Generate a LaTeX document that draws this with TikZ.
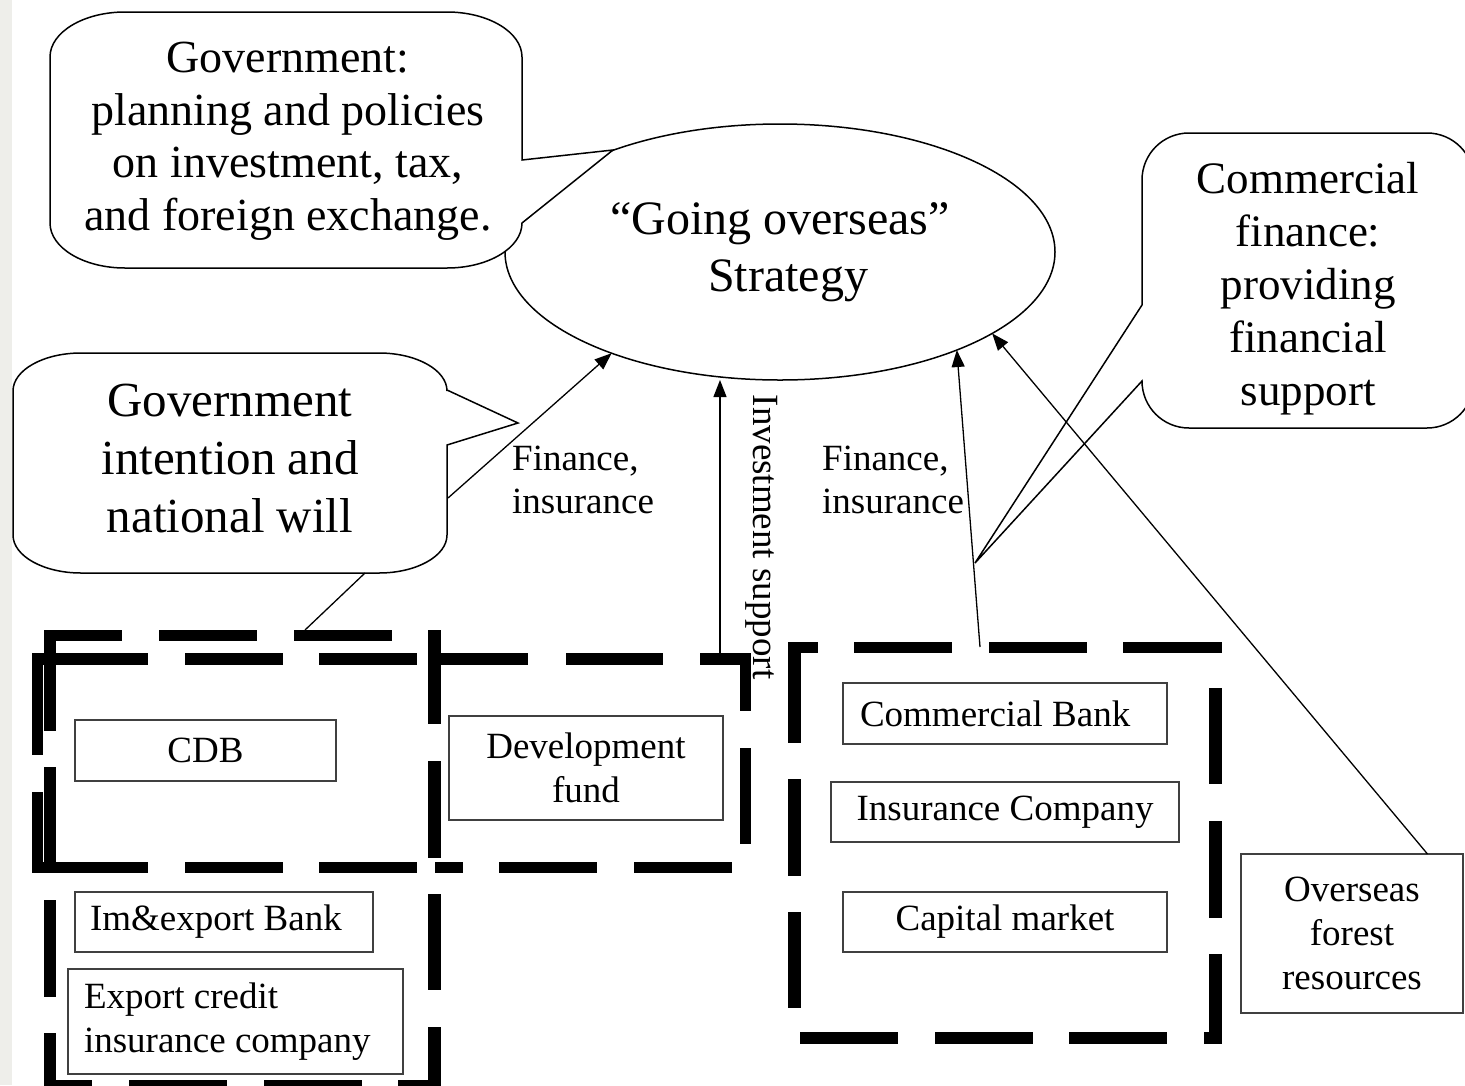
\documentclass[tikz,border=0pt]{standalone}
\usepackage{fontspec}
\setmainfont{Liberation Serif}
\usetikzlibrary{shapes.geometric,arrows.meta,calc}
\definecolor{strip}{RGB}{238,238,234}
\begin{document}
\begin{tikzpicture}[x=1pt,y=-1pt,
  outline/.style={draw=black, line width=1.5pt, fill=white},
  boxnode/.style={draw=black!75, line width=1.3pt, fill=white, inner sep=0pt, outer sep=0pt, align=center, font=\fontsize{37}{44}\selectfont},
  lab/.style={font=\fontsize{37}{43}\selectfont, align=left, inner sep=0pt},
  arr/.style={-{Triangle[length=17pt,width=13pt]}, line width=1.3pt},
  conn/.style={line width=1.3pt},
  dashbar/.style={fill=black}
]
\useasboundingbox (0,0) rectangle (1465,1085);
\clip (0,0) rectangle (1465,1085);
\fill[white] (0,0) rectangle (1465,1085);
\fill[strip] (0,0) rectangle (12,1085);

% central ellipse
\node[ellipse, outline, minimum width=550pt, minimum height=256pt, inner sep=0pt, outer sep=0pt, align=center, font=\fontsize{48}{57}\selectfont] (ell) at (780,252) {“Going overseas”\\\hspace*{16pt}Strategy};

% callout 1
\coordinate (g1tip) at (613,150);
\draw[outline] (522,160) -- (g1tip) -- (522,223) .. controls (522,247.8) and (488.4,268) .. (447,268) -- (125,268) .. controls (83.6,268) and (50,247.8) .. (50,223) -- (50,57) .. controls (50,32.2) and (83.6,12) .. (125,12) -- (447,12) .. controls (488.4,12) and (522,32.2) .. (522,57) -- cycle;
\node[font=\fontsize{46}{52.5}\selectfont, align=center, inner sep=0pt] (gov1) at (288,141) {Government:\\planning and policies\\on investment, tax,\\and foreign exchange.};

% callout 2
\coordinate (g2tip) at (518,423);
\draw[outline] (447,390) -- (g2tip) -- (447,445) -- (447,535) .. controls (447,556) and (416.5,573) .. (379,573) -- (81,573) .. controls (43.5,573) and (13,556) .. (13,535) -- (13,391) .. controls (13,370) and (43.5,353) .. (81,353) -- (379,353) .. controls (416.5,353) and (447,370) .. (447,391) -- cycle;
\node[font=\fontsize{49}{58}\selectfont, align=center, inner sep=0pt] (gov2) at (230,459) {Government\\intention and\\national will};

% callout 3
\coordinate (cftip) at (975,563);
\draw[outline] (1142,305) -- (cftip) -- (1142,381) .. controls (1142,407) and (1163,428) .. (1189,428) -- (1427,428) .. controls (1453,428) and (1474,407) .. (1474,381) -- (1474,180) .. controls (1474,154) and (1453,133) .. (1427,133) -- (1189,133) .. controls (1163,133) and (1142,154) .. (1142,180) -- cycle;
\node[font=\fontsize{45}{53}\selectfont, align=center, inner sep=0pt] (comf) at (1308,289) {Commercial\\finance:\\providing\\financial\\support};

% boxes
\node[boxnode, minimum width=261pt, minimum height=61pt] (cdb) at (205.5,750.5) {CDB};
\node[boxnode, minimum width=274pt, minimum height=104pt] (dev) at (586,768) {Development\\fund};
\node[boxnode, minimum width=298pt, minimum height=60pt, text width=268pt, inner xsep=15pt, align=flush left] (imex) at (224,922) {Im\&export Bank};
\node[boxnode, minimum width=335pt, minimum height=105pt, text width=303pt, inner xsep=16pt, align=flush left] (ecic) at (235.5,1021.5) {Export credit\\insurance company};
\node[boxnode, minimum width=324pt, minimum height=61pt, text width=290pt, inner xsep=17pt, align=flush left] (cb) at (1005,713.5) {Commercial Bank};
\node[boxnode, minimum width=348pt, minimum height=60pt] (ic) at (1005,812) {Insurance Company};
\node[boxnode, minimum width=324pt, minimum height=60pt] (cm) at (1005,922) {Capital market};
\node[boxnode, minimum width=222pt, minimum height=159pt] (ofr) at (1352,933.5) {Overseas\\forest\\resources};

% thick dashed frames
\foreach \a/\b/\c/\d in {
  44/630/122/641, 159/630/257/641, 294/630/392/641,
  32/653/148/665, 185/653/283/665, 319/653/417/665, 435/653/528/665, 566/653/663/665, 700/653/751/665,
  32/862/148/873, 185/862/283/873, 319/862/417/873, 435/862/463/873, 499/862/597/873, 634/862/732/873,
  44/1080/92/1092, 129/1080/227/1092, 264/1080/362/1092, 398/1080/441/1092,
  32/653/43/755, 32/792/43/873,
  44/630/56/731, 44/767/56/868, 44/900/56/997, 44/1033/56/1092,
  428/630/441/724, 428/761/441/858, 428/894/441/990, 428/1027/441/1092,
  740/653/751/711, 740/748/751/844,
  788/642/818/653, 854/642/952/653, 989/642/1087/653, 1123/642/1222/653,
  788/642/801/743, 788/779/801/876, 788/912/801/1008,
  1209/688/1222/784, 1209/821/1222/918, 1209/954/1222/1044,
  800/1032/898/1044, 935/1032/1033/1044, 1069/1032/1167/1044, 1204/1032/1222/1044}
  \fill[dashbar] (\a,\b) rectangle (\c,\d);

% labels
\node[lab, anchor=west] (fin1) at (512,480) {Finance,\\insurance};
\node[lab, anchor=west] (fin2) at (822,480) {Finance,\\insurance};
\node[font=\fontsize{37}{43}\selectfont, inner sep=0pt, rotate=-90] (invs) at (762,537) {Investment support};

% connector end points
\coordinate (gi-arrow) at (448,498);
\coordinate (gi-foot) at (365,573);
\coordinate (pb-top) at (305,630);
\coordinate (inv-start) at (720,660);
\coordinate (cf-start) at (980,647);
\coordinate (ofr-start) at ($(ofr.north west)!0.84!(ofr.north east)$);

% connectors
\draw[arr] (gi-arrow) -- (ell.211);
\draw[arr] (inv-start) -- (inv-start |- ell.south);
\draw[arr] (cf-start) -- (ell.331);
\draw[arr] (ofr-start) -- (ell.339);
\draw[conn] (gi-foot) -- (pb-top);
\end{tikzpicture}
\end{document}
